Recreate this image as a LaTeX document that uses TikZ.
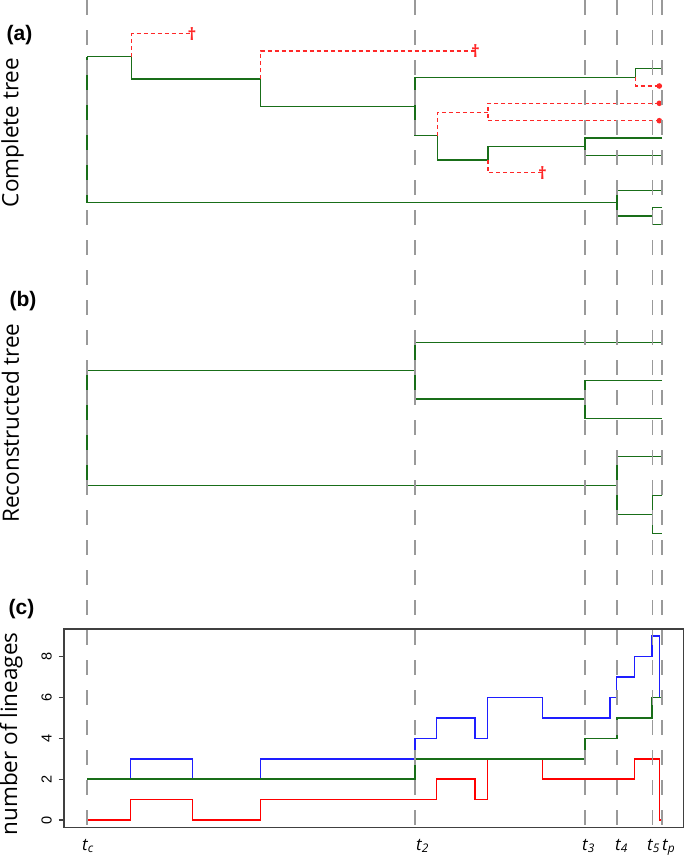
\documentclass[tikz,border=0pt]{standalone}
\usepackage{fontspec}
\newfontfamily\sansfont{Open Sans}
\newfontfamily\axisfont{Liberation Sans}
\definecolor{treegreen}{RGB}{25,110,25}
\definecolor{lostred}{RGB}{255,40,40}
\definecolor{lineblue}{RGB}{30,30,255}

\begin{document}
\begin{tikzpicture}[x=1pt,y=-1pt,
  tree/.style={draw=treegreen,line width=1.5pt},
  lost/.style={draw=lostred,line width=1.5pt,dash pattern=on 4pt off 3pt},
  guide/.style={draw=black!40,line width=1.5pt,dash pattern=on 15pt off 15pt},
  boxline/.style={draw=black!75,line width=1.3pt},
  count/.style={line width=1.5pt},
  tip/.style={text=lostred,inner sep=0pt,font=\sansfont\bfseries\fontsize{17}{17}\selectfont},
  panel/.style={inner sep=0pt,font=\axisfont\bfseries\fontsize{21}{21}\selectfont},
  side/.style={rotate=90,anchor=base,inner sep=0pt,font=\sansfont\fontsize{22.5}{22.5}\selectfont},
  ticklab/.style={rotate=90,anchor=base,inner sep=0pt,font=\axisfont\fontsize{14.5}{14.5}\selectfont},
  tlab/.style={anchor=base west,inner sep=0pt,font=\sansfont\itshape\fontsize{17}{17}\selectfont}]
\useasboundingbox (0,0) rectangle (685,857);

% (a) complete tree
\draw[tree] (87,56.7) -- (87,202.7);
\draw[tree] (87,56.7) -- (131.7,56.7) -- (131.7,79) -- (260.7,79) -- (260.7,106.7) -- (415,106.7);
\draw[tree] (415,77.3) -- (415,135.7);
\draw[tree] (415,77.3) -- (635.3,77.3) -- (635.3,68.3) -- (662,68.3);
\draw[tree] (415,135.7) -- (437.3,135.7) -- (437.3,160) -- (488,160) -- (488,146.3) -- (585,146.3);
\draw[tree] (662,138) -- (585,138) -- (585,155.3) -- (662,155.3);
\draw[tree] (87,202.7) -- (617,202.7);
\draw[tree] (662,190.3) -- (617,190.3) -- (617,216) -- (652.5,216);
\draw[tree] (662,207.7) -- (652.5,207.7) -- (652.5,224.7) -- (662,224.7);
% extinct lineages
\draw[lost] (131.7,56.7) -- (131.7,33.7) -- (191.7,33.7);
\draw[lost] (260.7,79) -- (260.7,51) -- (475,51);
\draw[lost] (635.3,77.3) -- (635.3,86) -- (659.3,86);
\draw[lost] (437.3,135.7) -- (437.3,112.3) -- (488,112.3);
\draw[lost] (659.3,103.3) -- (488,103.3) -- (488,120.7) -- (659.3,120.7);
\draw[lost] (488,160) -- (488,172.7) -- (542.3,172.7);
\node[tip] (dA) at (192,33.7) {†};
\node[tip] (dB) at (475.5,51.2) {†};
\node[tip] (dC) at (542.5,173.5) {†};
\foreach \y in {86,103.3,120.7}
  \fill[lostred] (659.3,\y) circle (2.8pt);

% (b) reconstructed tree
\draw[tree] (87,370.7) -- (87,485.7);
\draw[tree] (87,370.7) -- (415,370.7);
\draw[tree] (662,342.3) -- (415,342.3) -- (415,399) -- (585,399);
\draw[tree] (662,380.3) -- (585,380.3) -- (585,418.3) -- (662,418.3);
\draw[tree] (87,485.7) -- (617,485.7);
\draw[tree] (662,456.7) -- (617,456.7) -- (617,514.3) -- (652.5,514.3);
\draw[tree] (662,495.3) -- (652.5,495.3) -- (652.5,533.3) -- (662,533.3);

% (c) lineages through time
\draw[boxline] (64,629) rectangle (683.5,827.3);
\begin{scope}[shift={(0,820)},y=20.42pt]
\foreach \v in {0,2,...,8} {
  \draw[boxline] (58.5,\v) -- (64,\v);
  \node[ticklab] at (51.7,\v) {\v};
}
\draw[count,lineblue] (87,2) -| (130.7,3) -| (192.3,2) -| (260.7,3) -| (415,4)
  -| (436.3,5) -| (475,4) -| (487.7,6) -| (542.7,5) -| (610,6) -| (616.7,7)
  -| (634.3,8) -| (652,9) -| (659.3,6) -- (662,6);
\draw[count,red] (87,0) -| (130.7,1) -| (192.3,0) -| (260.7,1) -| (436.3,2)
  -| (475,1) -| (487.7,3) -| (542.7,2) -| (634.3,3) -| (659.3,0) -- (662,0);
\draw[count,treegreen] (87,2) -| (415,3) -| (585,4) -| (617,5) -| (652,6) -- (662,6);
\end{scope}

% event times
\foreach \x in {87,415,585,617,652.5,662}
  \draw[guide] (\x,0) -- (\x,826);
\foreach \x/\s in {82/c,416/2,582/3,615/4,647/5,662/p}
  \node[tlab] at (\x,850) {t\textsubscript{\s}};

% labels
\node[panel] (pa) at (19.5,35) {(a)};
\node[panel] (pb) at (23,301.5) {(b)};
\node[panel] (pc) at (21.5,609) {(c)};
\node[side] (ya) at (18.3,132.5) {Complete tree};
\node[side] (yb) at (18.8,423) {Reconstructed tree};
\node[side] (yc) at (17,734) {number of lineages};
\end{tikzpicture}
\end{document}
